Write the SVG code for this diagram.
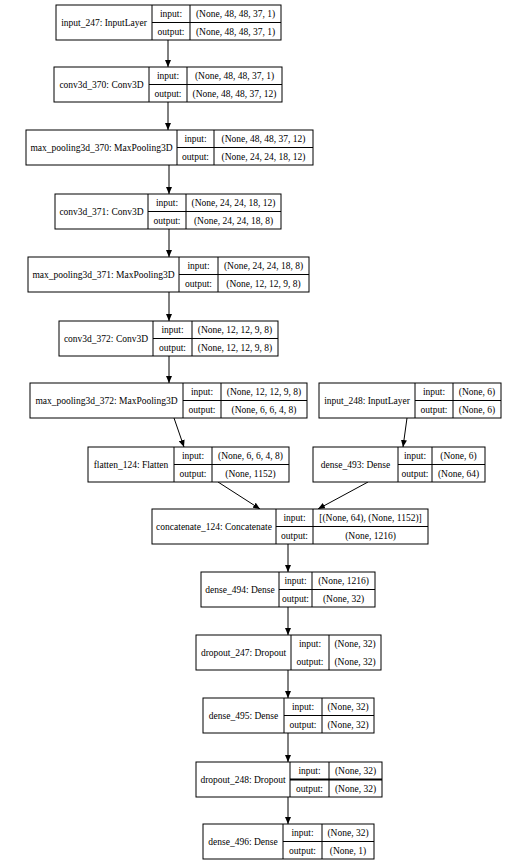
<svg xmlns="http://www.w3.org/2000/svg" width="508" height="866" viewBox="0 0 508 866">
<style>
.bx{fill:#fff;stroke:#000;stroke-width:1}
.ln{stroke:#000;stroke-width:1}
.bold{stroke:#000;stroke-width:2}
text{font-family:"Liberation Serif","Times New Roman",serif;font-size:9.5px;text-anchor:middle;fill:#000}
.edge{stroke:#000;stroke-width:1;fill:none;marker-end:url(#ah)}
</style>
<defs>
<marker id="ah" markerUnits="userSpaceOnUse" markerWidth="7" markerHeight="6" refX="7" refY="3" orient="auto">
<path d="M0,0 L7,3 L0,6 z" fill="#000"/>
</marker>
</defs>
<rect width="508" height="866" fill="#fff"/>
<g id="connectors">
<line class="edge" x1="168" y1="40" x2="168" y2="67"/>
<line class="edge" x1="168" y1="102" x2="168" y2="130"/>
<line class="edge" x1="169" y1="165" x2="169" y2="194"/>
<line class="edge" x1="169" y1="229" x2="169" y2="257"/>
<line class="edge" x1="169" y1="292" x2="169" y2="321"/>
<line class="edge" x1="169" y1="356" x2="169" y2="383"/>
<line class="edge" x1="174" y1="418" x2="184" y2="447"/>
<line class="edge" x1="407" y1="418" x2="403" y2="447"/>
<line class="edge" x1="218" y1="482" x2="260" y2="509"/>
<line class="edge" x1="368" y1="482" x2="318" y2="509"/>
<line class="edge" x1="288" y1="544" x2="288" y2="572"/>
<line class="edge" x1="288" y1="607" x2="288" y2="635"/>
<line class="edge" x1="288" y1="670" x2="288" y2="698"/>
<line class="edge" x1="288" y1="733" x2="288" y2="762"/>
<line class="edge" x1="288" y1="797" x2="288" y2="824"/>
</g>
<g id="input_247">
<rect class="bx" x="56" y="5" width="225" height="35"/>
<line class="ln" x1="152" y1="5" x2="152" y2="40"/><line class="ln" x1="190" y1="5" x2="190" y2="40"/><line class="ln" x1="152" y1="22.5" x2="281" y2="22.5"/>
<text x="104" y="26">input_247: InputLayer</text>
<text x="171" y="17">input:</text><text x="235.5" y="17">(None, 48, 48, 37, 1)</text>
<text x="171" y="34.5">output:</text><text x="235.5" y="34.5">(None, 48, 48, 37, 1)</text>
</g>
<g id="conv3d_370">
<rect class="bx" x="54" y="67" width="228" height="35"/>
<line class="ln" x1="149" y1="67" x2="149" y2="102"/><line class="ln" x1="187" y1="67" x2="187" y2="102"/><line class="ln" x1="149" y1="84.5" x2="282" y2="84.5"/>
<text x="101.5" y="88">conv3d_370: Conv3D</text>
<text x="168" y="79">input:</text><text x="234.5" y="79">(None, 48, 48, 37, 1)</text>
<text x="168" y="96.5">output:</text><text x="234.5" y="96.5">(None, 48, 48, 37, 12)</text>
</g>
<g id="max_pooling3d_370">
<rect class="bx" x="26" y="130" width="287" height="35"/>
<line class="ln" x1="177" y1="130" x2="177" y2="165"/><line class="ln" x1="214" y1="130" x2="214" y2="165"/><line class="ln" x1="177" y1="147.5" x2="313" y2="147.5"/>
<text x="101.5" y="151">max_pooling3d_370: MaxPooling3D</text>
<text x="195.5" y="142">input:</text><text x="263.5" y="142">(None, 48, 48, 37, 12)</text>
<text x="195.5" y="159.5">output:</text><text x="263.5" y="159.5">(None, 24, 24, 18, 12)</text>
</g>
<g id="conv3d_371">
<rect class="bx" x="55" y="194" width="226" height="35"/>
<line class="ln" x1="148" y1="194" x2="148" y2="229"/><line class="ln" x1="186" y1="194" x2="186" y2="229"/><line class="ln" x1="148" y1="211.5" x2="281" y2="211.5"/>
<text x="101.5" y="215">conv3d_371: Conv3D</text>
<text x="167" y="206">input:</text><text x="233.5" y="206">(None, 24, 24, 18, 12)</text>
<text x="167" y="223.5">output:</text><text x="233.5" y="223.5">(None, 24, 24, 18, 8)</text>
</g>
<g id="max_pooling3d_371">
<rect class="bx" x="28" y="257" width="281" height="35"/>
<line class="ln" x1="179" y1="257" x2="179" y2="292"/><line class="ln" x1="218" y1="257" x2="218" y2="292"/><line class="ln" x1="179" y1="274.5" x2="309" y2="274.5"/>
<text x="103.5" y="278">max_pooling3d_371: MaxPooling3D</text>
<text x="198.5" y="269">input:</text><text x="263.5" y="269">(None, 24, 24, 18, 8)</text>
<text x="198.5" y="286.5">output:</text><text x="263.5" y="286.5">(None, 12, 12, 9, 8)</text>
</g>
<g id="conv3d_372">
<rect class="bx" x="59" y="321" width="219" height="35"/>
<line class="ln" x1="153" y1="321" x2="153" y2="356"/><line class="ln" x1="192" y1="321" x2="192" y2="356"/><line class="ln" x1="153" y1="338.5" x2="278" y2="338.5"/>
<text x="106" y="342">conv3d_372: Conv3D</text>
<text x="172.5" y="333">input:</text><text x="235" y="333">(None, 12, 12, 9, 8)</text>
<text x="172.5" y="350.5">output:</text><text x="235" y="350.5">(None, 12, 12, 9, 8)</text>
</g>
<g id="max_pooling3d_372">
<rect class="bx" x="30" y="383" width="277" height="35"/>
<line class="ln" x1="183" y1="383" x2="183" y2="418"/><line class="ln" x1="221" y1="383" x2="221" y2="418"/><line class="ln" x1="183" y1="400.5" x2="307" y2="400.5"/>
<text x="106.5" y="404">max_pooling3d_372: MaxPooling3D</text>
<text x="202" y="395">input:</text><text x="264" y="395">(None, 12, 12, 9, 8)</text>
<text x="202" y="412.5">output:</text><text x="264" y="412.5">(None, 6, 6, 4, 8)</text>
</g>
<g id="input_248">
<rect class="bx" x="319" y="383" width="182" height="35"/>
<line class="ln" x1="415" y1="383" x2="415" y2="418"/><line class="ln" x1="453" y1="383" x2="453" y2="418"/><line class="ln" x1="415" y1="400.5" x2="501" y2="400.5"/>
<text x="367" y="404">input_248: InputLayer</text>
<text x="434" y="395">input:</text><text x="477" y="395">(None, 6)</text>
<text x="434" y="412.5">output:</text><text x="477" y="412.5">(None, 6)</text>
</g>
<g id="flatten_124">
<rect class="bx" x="88" y="447" width="201" height="35"/>
<line class="ln" x1="174" y1="447" x2="174" y2="482"/><line class="ln" x1="212" y1="447" x2="212" y2="482"/><line class="ln" x1="174" y1="464.5" x2="289" y2="464.5"/>
<text x="131" y="468">flatten_124: Flatten</text>
<text x="193" y="459">input:</text><text x="250.5" y="459">(None, 6, 6, 4, 8)</text>
<text x="193" y="476.5">output:</text><text x="250.5" y="476.5">(None, 1152)</text>
</g>
<g id="dense_493">
<rect class="bx" x="313" y="447" width="172" height="35"/>
<line class="ln" x1="398" y1="447" x2="398" y2="482"/><line class="ln" x1="432" y1="447" x2="432" y2="482"/><line class="ln" x1="398" y1="464.5" x2="485" y2="464.5"/>
<text x="355.5" y="468">dense_493: Dense</text>
<text x="415" y="459">input:</text><text x="458.5" y="459">(None, 6)</text>
<text x="415" y="476.5">output:</text><text x="458.5" y="476.5">(None, 64)</text>
</g>
<g id="concatenate_124">
<rect class="bx" x="152" y="509" width="276" height="35"/>
<line class="ln" x1="276" y1="509" x2="276" y2="544"/><line class="ln" x1="313" y1="509" x2="313" y2="544"/><line class="ln" x1="276" y1="526.5" x2="428" y2="526.5"/>
<text x="214" y="530">concatenate_124: Concatenate</text>
<text x="294.5" y="521">input:</text><text x="370.5" y="521">[(None, 64), (None, 1152)]</text>
<text x="294.5" y="538.5">output:</text><text x="370.5" y="538.5">(None, 1216)</text>
</g>
<g id="dense_494">
<rect class="bx" x="201" y="572" width="174" height="35"/>
<line class="ln" x1="279" y1="572" x2="279" y2="607"/><line class="ln" x1="312" y1="572" x2="312" y2="607"/><line class="ln" x1="279" y1="589.5" x2="375" y2="589.5"/>
<text x="240" y="593">dense_494: Dense</text>
<text x="295.5" y="584">input:</text><text x="343.5" y="584">(None, 1216)</text>
<text x="295.5" y="601.5">output:</text><text x="343.5" y="601.5">(None, 32)</text>
</g>
<g id="dropout_247">
<rect class="bx" x="196" y="635" width="185" height="35"/>
<line class="ln" x1="291" y1="635" x2="291" y2="670"/><line class="ln" x1="329" y1="635" x2="329" y2="670"/>
<text x="243.5" y="656">dropout_247: Dropout</text>
<text x="310" y="647">input:</text><text x="355" y="647">(None, 32)</text>
<text x="310" y="664.5">output:</text><text x="355" y="664.5">(None, 32)</text>
</g>
<g id="dense_495">
<rect class="bx" x="203" y="698" width="171" height="35"/>
<line class="ln" x1="284" y1="698" x2="284" y2="733"/><line class="ln" x1="322" y1="698" x2="322" y2="733"/><line class="ln" x1="284" y1="715.5" x2="374" y2="715.5"/>
<text x="243.5" y="719">dense_495: Dense</text>
<text x="303" y="710">input:</text><text x="348" y="710">(None, 32)</text>
<text x="303" y="727.5">output:</text><text x="348" y="727.5">(None, 32)</text>
</g>
<g id="dropout_248">
<rect class="bx" x="196" y="762" width="186" height="35"/>
<line class="ln" x1="290" y1="762" x2="290" y2="797"/><line class="ln" x1="329" y1="762" x2="329" y2="797"/><line class="bold" x1="290" y1="779.5" x2="382" y2="779.5"/>
<text x="243" y="783">dropout_248: Dropout</text>
<text x="309.5" y="774">input:</text><text x="355.5" y="774">(None, 32)</text>
<text x="309.5" y="791.5">output:</text><text x="355.5" y="791.5">(None, 32)</text>
</g>
<g id="dense_496">
<rect class="bx" x="203" y="824" width="171" height="35"/>
<line class="ln" x1="283" y1="824" x2="283" y2="859"/><line class="ln" x1="322" y1="824" x2="322" y2="859"/><line class="ln" x1="283" y1="841.5" x2="374" y2="841.5"/>
<text x="243" y="845">dense_496: Dense</text>
<text x="302.5" y="836">input:</text><text x="348" y="836">(None, 32)</text>
<text x="302.5" y="853.5">output:</text><text x="348" y="853.5">(None, 1)</text>
</g>
</svg>
